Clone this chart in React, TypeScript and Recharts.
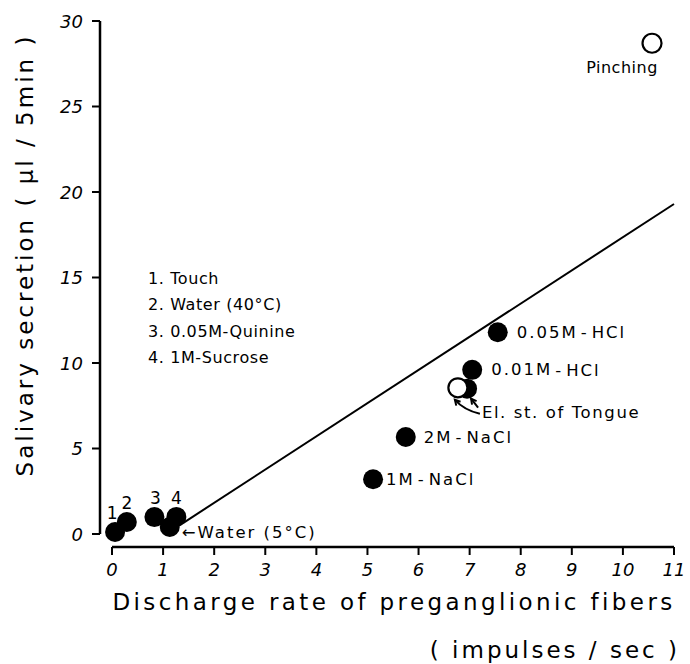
import React from 'react'
import { ScatterChart, Scatter, XAxis, YAxis, ReferenceLine } from 'recharts'

// stimuli drawn as filled dots
const filledNames = ['Touch', 'Water (40°C)', '0.05M-Quinine', '1M-Sucrose', 'Water (5°C)', '1M-NaCl', '2M-NaCl', 'El. st. of Tongue', '0.01M-HCl', '0.05M-HCl']
const filledTags = ['1', '2', '3', '4', '←Water (5°C)', '1M-NaCl', '2M-NaCl', '', '0.01M-HCl', '0.05M-HCl']
const filledRate = [0.06, 0.29, 0.83, 1.26, 1.13, 5.11, 5.75, 6.95, 7.05, 7.55]
const filledSecretion = [0.12, 0.7, 0.99, 1.0, 0.41, 3.2, 5.67, 8.5, 9.6, 11.8]

// stimuli drawn as open dots
const openNames = ['El. st. of Tongue', 'Pinching']
const openRate = [6.77, 10.57]
const openSecretion = [8.55, 28.7]

// regression line
const fitRate = [1.39, 11]
const fitSecretion = [0.64, 19.3]

const xTicks = [0, 1, 2, 3, 4, 5, 6, 7, 8, 9, 10, 11]
const yTicks = [0, 5, 10, 15, 20, 25, 30]
const legendLines = ['1. Touch', '2. Water (40°C)', '3. 0.05M-Quinine', '4. 1M-Sucrose']

const X_MIN = -0.235
const Y_MIN = -0.76
const FONT = '"DejaVu Sans", sans-serif'

const filledData = filledRate.map((x, i) => ({ x, y: filledSecretion[i], name: filledNames[i], tag: filledTags[i], i }))
const openData = openRate.map((x, i) => ({ x, y: openSecretion[i], name: openNames[i], i }))

// where each tag sits relative to its dot
const filledPlacement = [
  { dx: -3, dy: -19, anchor: 'middle' },
  { dx: 0, dy: -19, anchor: 'middle' },
  { dx: 1, dy: -19, anchor: 'middle' },
  { dx: 0, dy: -19, anchor: 'middle' },
  { dx: 12, dy: 6, anchor: 'start' },
  { dx: 13, dy: 0, anchor: 'start' },
  { dx: 18, dy: 0, anchor: 'start' },
  { dx: 0, dy: 0, anchor: 'start' },
  { dx: 19, dy: 0, anchor: 'start' },
  { dx: 19, dy: 0, anchor: 'start' },
]

// put a little air around the hyphen, like the original lettering
const spaced = (text: string) => {
  const parts = text.split('-')
  if (parts.length < 2) return text
  return parts.map((p, k) => (
    <React.Fragment key={k}>
      {k > 0 && <tspan dx={3}>-</tspan>}
      {k > 0 ? <tspan dx={3}>{p}</tspan> : p}
    </React.Fragment>
  ))
}

const Arrow = ({ x1, y1, x2, y2, curve }: any) => {
  const ang = Math.atan2(y2 - (curve ? curve[1] : y1), x2 - (curve ? curve[0] : x1))
  const h = 6
  const a1 = ang + Math.PI - 0.5
  const a2 = ang + Math.PI + 0.5
  const d = curve ? `M${x1},${y1} Q${curve[0]},${curve[1]} ${x2},${y2}` : `M${x1},${y1} L${x2},${y2}`
  return (
    <g stroke="#000" strokeWidth={2} fill="none">
      <path d={d} />
      <path d={`M${x2 + h * Math.cos(a1)},${y2 + h * Math.sin(a1)} L${x2},${y2} L${x2 + h * Math.cos(a2)},${y2 + h * Math.sin(a2)}`} />
    </g>
  )
}

const FilledDot = (props: any) => {
  const { cx, cy, payload } = props
  const p = filledPlacement[payload.i]
  const isNumber = /^\d$/.test(payload.tag)
  return (
    <g>
      <circle cx={cx} cy={cy} r={10} fill="#000" />
      {payload.tag && (
        <text
          x={cx + p.dx}
          y={cy + p.dy}
          textAnchor={p.anchor}
          dominantBaseline="central"
          fontFamily={FONT}
          fontSize={isNumber ? 17 : 16.5}
          letterSpacing={isNumber ? 0 : 2}
          fill="#000"
        >
          {isNumber ? payload.tag : spaced(payload.tag)}
        </text>
      )}
      {payload.name === 'El. st. of Tongue' && <Arrow x1={cx + 11} y1={cy + 19} x2={cx + 4} y2={cy + 10} />}
    </g>
  )
}

const OpenDot = (props: any) => {
  const { cx, cy, payload } = props
  return (
    <g>
      <circle cx={cx} cy={cy} r={9.5} fill="#fff" stroke="#000" strokeWidth={2.2} />
      {payload.name === 'Pinching' ? (
        <text x={cx - 30} y={cy + 24} textAnchor="middle" dominantBaseline="central" fontFamily={FONT} fontSize={16} letterSpacing={0.5}>
          Pinching
        </text>
      ) : (
        <g>
          <text x={cx + 24} y={cy + 25} dominantBaseline="central" fontFamily={FONT} fontSize={16.5} letterSpacing={1.6}>
            El. st. of Tongue
          </text>
          <Arrow x1={cx + 22} y1={cy + 26} curve={[cx + 6, cy + 22]} x2={cx - 3} y2={cy + 12} />
        </g>
      )}
    </g>
  )
}

const XTick = ({ x, y, payload }: any) => (
  <text x={x} y={y} dy={19} textAnchor="middle" fontFamily={FONT} fontStyle="italic" fontSize={18} fill="#000">
    {payload.value}
  </text>
)

const YTick = ({ x, y, payload }: any) => (
  <text x={x - 7} y={y} textAnchor="end" dominantBaseline="central" fontFamily={FONT} fontStyle="italic" fontSize={18} fill="#000">
    {payload.value}
  </text>
)

export default function App() {
  return (
    <div style={{ position: 'absolute', left: 0, top: 0, width: 690, height: 664, background: '#fff' }}>
      <ScatterChart width={690} height={664} margin={{ top: 21, right: 16, left: 40, bottom: 87 }}>
        <XAxis
          type="number"
          dataKey="x"
          domain={[X_MIN, 11]}
          ticks={xTicks}
          allowDataOverflow
          axisLine={false}
          tickLine={{ stroke: '#000', strokeWidth: 2 }}
          tickSize={8}
          height={30}
          tick={<XTick />}
        />
        <YAxis
          type="number"
          dataKey="y"
          domain={[Y_MIN, 30]}
          ticks={yTicks}
          allowDataOverflow
          axisLine={false}
          tickLine={{ stroke: '#000', strokeWidth: 2 }}
          tickSize={8}
          width={60}
          tick={<YTick />}
        />
        <ReferenceLine segment={[{ x: 0, y: Y_MIN }, { x: 11, y: Y_MIN }]} stroke="#000" strokeWidth={2.5} ifOverflow="visible" />
        <ReferenceLine segment={[{ x: X_MIN, y: 0 }, { x: X_MIN, y: 30 }]} stroke="#000" strokeWidth={2.5} ifOverflow="visible" />
        <ReferenceLine
          segment={[{ x: fitRate[0], y: fitSecretion[0] }, { x: fitRate[1], y: fitSecretion[1] }]}
          stroke="#000"
          strokeWidth={2}
          ifOverflow="visible"
        />
        <Scatter data={filledData} shape={<FilledDot />} isAnimationActive={false} />
        <Scatter data={openData} shape={<OpenDot />} isAnimationActive={false} />
      </ScatterChart>
      <svg width={690} height={664} style={{ position: 'absolute', left: 0, top: 0, pointerEvents: 'none' }}>
        <text
          transform="translate(25,255) rotate(-90)"
          textAnchor="middle"
          dominantBaseline="central"
          fontFamily={FONT}
          fontSize={23}
          letterSpacing={3}
        >
          Salivary secretion ( μl / 5min )
        </text>
        <text x={394} y={602} textAnchor="middle" dominantBaseline="central" fontFamily={FONT} fontSize={23} letterSpacing={3.4}>
          Discharge rate of preganglionic fibers
        </text>
        <text x={680} y={650} textAnchor="end" dominantBaseline="central" fontFamily={FONT} fontSize={23} letterSpacing={3}>
          ( impulses / sec )
        </text>
        {legendLines.map((t, k) => (
          <text key={t} x={148} y={278 + k * 26.5} dominantBaseline="central" fontFamily={FONT} fontSize={16} letterSpacing={0.6}>
            {t}
          </text>
        ))}
      </svg>
    </div>
  )
}
